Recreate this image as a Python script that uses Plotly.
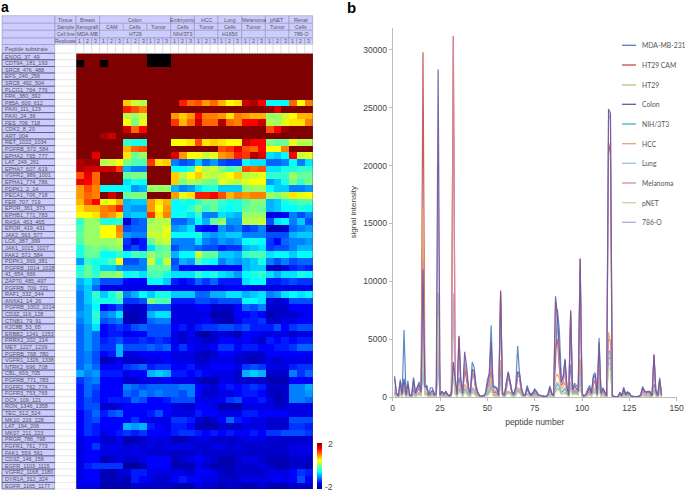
import plotly.graph_objects as go

peptides = [
    "ENOG_37_49", "CDT9A_181_193", "SRC8_476_488", "EFS_240_256", "SRC8_492_504", "PLCG1_764_776",
    "FRK_380_392", "P85A_600_612", "PAXI_111_123", "PAXI_24_36", "FES_706_718", "CDK2_8_20",
    "ART_004", "RET_1022_1034", "PGFRB_572_584", "EPHA2_765_777", "LAT_249_261", "EPHA7_607_619",
    "VGFR2_989_1001", "EPHA1_774_786", "PDPK1_2_14", "PECA1_706_718", "FER_707_719", "EPOR_361_373",
    "EPHB1_771_783", "RASA_453_465", "EPOR_419_431", "JAK2_563_577", "LCK_387_399", "JAK1_1015_1027",
    "FAK2_572_584", "PDPK1_369_381", "PGFRB_1014_1028", "41_654_666", "ZAP70_485_497", "PGFRB_709_721",
    "RAF1_332_344", "ANXA1_14_26", "PGFRB_1002_1014", "CD3Z_116_128", "CTNB1_79_91", "K2C8B_53_65",
    "ERBB2_1241_1253", "PRRX2_202_214", "MET_1227_1239", "PGFRB_768_780", "VGFR1_1326_1338", "NTRK2_696_708",
    "CBL_693_705", "PGFRB_771_783", "FGFR2_762_774", "FGFR3_753_765", "DCX_109_121", "RON_1346_1358",
    "TEC_512_524", "MK10_216_228", "LAT_194_206", "MK07_211_223", "PRGR_786_798", "FGFR1_761_773",
    "FAK1_559_561", "CD3Z_146_158", "EGFR_1103_1115", "VGFR2_1168_1180", "DYR1A_312_324", "EGFR_1165_1177",
]

# 30 replicates, 66 peptides; None is a black (missing) cell
heat_values = [
    [2, 2, 2, 2, 2, 2, 2, 2, 2, None, None, None, 2, 2, 2, 2, 2, 2, 2, 2, 2, 2, 2, 2, 2, 2, 2, 2, 2, 2],
    [None, 2, 2, None, 2, 2, 2, 2, 2, None, None, None, 2, 2, 2, 2, 2, 2, 2, 2, 2, 2, 2, 2, 2, 2, 2, 2, 2, 2],
    [2, 2, 2, 2, 2, 2, 2, 2, 2, 2, 2, 2, 2, 2, 2, 2, 2, 2, 2, 2, 2, 2, 2, 2, 2, 2, 2, 2, 2, 2],
    [2, 2, 2, 2, 2, 2, 2, 2, 2, 2, 2, 2, 2, 2, 2, 2, 2, 2, 2, 2, 2, 2, 2, 2, 2, 2, 2, 2, 2, 2],
    [2, 2, 2, 2, 2, 2, 2, 2, 2, 2, 2, 2, 2, 2, 2, 2, 2, 2, 2, 2, 2, 2, 2, 2, 2, 2, 2, 2, 2, 2],
    [2, 2, 2, 2, 2, 2, 2, 2, 2, 2, 2, 2, 2, 2, 2, 2, 2, 2, 2, 2, 2, 2, 2, 2, 2, 2, 2, 2, 2, 2],
    [2, 2, 2, 2, 2, 2, 2, 2, 2, 2, 2, 2, 2, 2, 2, 2, 2, 2, 2, 2, 2, 2, 2, 2, 2, 2, 2, 2, 2, 2],
    [2, 2, 2, 2, 2, 2, .7, .3, .2, 2, 2, 2, 2, 1.4, 1.1, 1.2, .9, 1.1, .8, .5, .6, 1.7, 1.8, 1.5, -.5, -.5, -.5, 1.1, .5, 1.0],
    [2, 2, 2, 2, 2, 2, 1.4, 1.2, 1.0, 2, 2, 2, 2, 2, 2, 2, 2, 2, 2, 2, 2, 2, 2, 2, 1.9, 1.6, 2, 2, 2, 2],
    [2, 2, 2, 2, 2, 2, .2, .1, .3, 2, 2, 2, .9, .7, .9, 1.5, 1.0, 1.0, .9, .6, 1.0, .9, .8, .8, .1, .1, .3, .5, .8, .8],
    [2, 2, 2, 2, 2, 2, .5, 0, .4, 2, 2, 2, 1.3, .8, 1.1, 1.7, 1.1, 1.1, 1.8, 1.1, 1.0, 1.5, 1.5, 1.7, .2, .1, .4, .6, .6, 1.0],
    [2, 2, 2, 2, 2, 2, 1.7, 1.1, 1.5, 2, 2, 2, 2, 2, 2, 2, 2, 2, 2, 2, 2, 2, 2, 2, 1.2, 1.5, 1.9, 2, 2, 2],
    [2, 2, 2, 1.85, 1.7, 2, 2, 2, 2, 2, 2, 2, 2, 2, 2, 2, 2, 2, 2, 2, 2, 2, 2, 2, 2, 2, 2, 2, 2, 2],
    [2, 2, 2, 2, 2, 2, -.3, -.4, -.4, 2, 2, 2, .5, .5, .6, 1.2, .6, .7, .6, .5, .5, 1.7, 1.5, 1.5, 0, -.1, -.1, .4, .2, .2],
    [2, 2, 2, 2, 2, 2, .8, 1.1, 1.2, 2, 2, 2, 2, 2, 2, 2, 2, 2, 1.2, 1.3, 1.6, 1.2, 1.1, 1.5, .5, .5, 1.0, 2, 2, 2],
    [2, 2, 1.6, 2, 2, 2, .6, -.1, .1, 2, 2, 2, 1.6, .9, .5, .5, .3, .4, .9, 1.0, 1.4, 1.3, 1.8, 1.6, -.6, -.7, -.5, 1.5, .3, .4],
    [1.8, 1.9, 1.9, .2, .3, .5, 0, -.2, -.2, 1.3, .6, .7, -1.0, -1.2, -1.1, -.7, -1.1, -.9, -1.2, -1.3, -1.3, -.5, -.6, -.6, -1.1, -1.1, -1, -.5, -1, -.6],
    [1.8, 1.7, 1.7, 1.7, 1.7, 1.3, -.8, -1, -1, 2, 2, 2, -.5, -.5, -.3, .5, .2, .3, 0, -.2, -.1, 1.2, 1.1, 1.2, -.6, -.6, -.4, -.4, -.3, -.3],
    [1.2, 1.6, 1.1, 2, 2, 2, -.1, 0, 0, 2, 2, 2, .7, .2, .5, .7, .3, .2, .3, .5, .7, .2, .3, .4, -.3, -.3, -.3, .1, -.1, -.1],
    [1.6, 1.5, 1.1, 2, 2, 2, -.6, -.4, -.5, 2, 2, 2, .7, 0, .2, .1, 0, -.1, .4, .3, .2, .4, .5, .5, -.9, -.7, -.4, 0, -.3, 0],
    [.9, 1.2, 1.0, -.5, -.5, -.5, -.5, -.9, -.8, .1, .1, .1, -.8, -1.0, -.9, -.6, -.4, -.3, -.7, -.7, -.7, 0, .1, .1, -.5, -.7, -.7, -1.0, -1, -.9],
    [.9, 1.1, 1.0, 2, 1.7, 2, -.1, 0, 0, 2, 2, 2, .9, .4, .6, 1.4, 1.4, 1.5, 1.2, .8, 1.0, .9, 1.0, 1.0, .1, 0, .2, .6, .4, .5],
    [.8, 1.2, 1.5, .4, .5, .8, -.8, -.7, -.7, .9, .6, .8, -.5, -.4, -.5, -.3, -.1, -.1, -.3, -.4, -.4, -.2, 0, 0, -.8, -.7, -.4, -.3, -.2, -.2],
    [.6, .8, .8, 1.0, 1.1, 1.4, -.8, -.9, -.9, .9, .5, .9, -.5, -.5, -.3, 0, -.3, -.1, -.4, -.5, -.4, -.1, 0, -.1, -.8, -.7, -.5, -.5, -.4, -.5],
    [.5, .5, .6, 1.0, .9, .6, -.8, -.7, -.7, 1.3, .6, 1.0, -.5, -.4, -.6, -.3, -1, -1, -.6, -.7, -.8, .1, .1, .1, -1.6, -1.6, -1.5, -1, -1.2, -1],
    [-.3, .1, .1, -.4, -.4, -.3, -1.7, -1.2, -1.1, .1, .2, .2, -1.1, -1.1, -.9, -.5, -.8, -.1, .1, -.9, -.9, .2, .2, .3, -1.2, -.6, -.5, -1, -.7, -1.2],
    [-.2, .1, .1, .5, .5, 1.0, -1.2, -1.1, -1.1, .2, .2, .4, -.9, -.8, -.6, -1.4, -1.5, -1.5, -.9, -1.1, -1.0, -1.3, -1.2, -1, -1.8, -1.8, -1.7, -1.1, -1, -.9],
    [-.1, .1, .1, .5, .5, .9, -.9, -1.0, -1.0, .3, .3, .4, -.5, -.5, -.5, -.4, -.8, -.9, -.8, -.7, -.7, -1, -1, -1, -1.2, -1.2, -1.2, -.8, -.7, -.7],
    [-.2, .1, .1, .1, .1, .2, -1.3, -1.6, -1.4, -.1, .2, .3, -1.0, -1.0, -1.0, -.6, -1.0, -1.1, -.9, -1, -.9, -.5, -.4, -.5, -1.3, -1.5, -1.1, -1, -1, -.9],
    [-.4, -.1, 0, -.1, 0, .1, -1.4, -1.2, -1.4, -.6, -.2, -.1, -1.2, -1, -1, -1.1, -1.2, -1.2, -1.4, -1.3, -1.3, -.8, -.7, -.6, -1.3, -1.2, -1.2, -1, -.8, -.8],
    [-.4, -.1, -.1, -.5, -.5, -.3, -.5, -.2, -.3, .1, -.1, 0, -.8, -.5, -.5, .3, -.1, -.1, -.7, -.7, -.8, -.3, -.2, -.2, -.6, -.5, -.5, -.7, -.5, -.5],
    [-.9, -.3, -.4, -.4, -.2, .5, -1.2, -1.2, -1.0, .3, -.3, .3, -1.2, -.8, -.9, -.2, -.4, -.5, -1.0, -.8, -.9, -.8, -.7, -.4, -1.0, -1.2, -1, -1.2, -1.1, -1.1],
    [-.4, -.1, -.4, -.7, -.7, -.9, -1.0, -1.0, -1, -.1, -.1, -.1, -1.1, -1.5, -1.5, -1.5, -1.5, -1.5, -1.5, -1.5, -1.5, -.8, -.7, -.7, -1.7, -1.8, -1.6, -1.4, -1.3, -1.4],
    [-.3, -.1, -.3, 0, 0, .1, -.5, -.4, -.6, -.2, -.2, -.4, -.6, -.6, -.6, -.3, -.5, -.4, -.6, -.7, -.9, -.5, -.4, -.3, -.6, -.8, -.6, -.6, -.4, -.5],
    [-.8, -.6, -.9, -1.2, -1.2, -1.2, -1.5, -1.5, -1.5, -.5, -.5, -.7, -1.4, -1.5, -1.4, -1.1, -1.3, -1.1, -1.4, -1.4, -1.4, -.6, -.5, -.5, -1.4, -1.4, -1.3, -1.2, -1.3, -1.3],
    [-.9, -.7, -1.1, -1.6, -1.6, -1.6, -1.6, -1.6, -1.6, -1.6, -1.6, -1.5, -1.6, -1.6, -1.6, -1.6, -1.6, -1.6, -1.6, -1.5, -1.5, -1.5, -1.6, -1.6, -1.6, -1.6, -1.6, -1.6, -1.6, -1.6],
    [-1, -.7, -.3, -.7, -.4, -.1, -1.0, -.8, -.5, -.7, -.4, -.4, -.7, -.7, -.7, -1.1, -1.1, -.8, -.8, -.6, -.6, -.8, -.7, -.6, -1.0, -.9, -.6, -.5, -.6, -.5],
    [-1, -.7, -.4, -.4, -.4, -.3, -1.3, -1.3, -1.2, 0, -.2, -.2, -1.4, -1.4, -1.4, -1.2, -1.2, -1.3, -1.2, -1.2, -1.2, -.5, -.5, -.6, -1.6, -1.7, -1.6, -1.2, -1.2, -1.2],
    [-1, -.8, -.5, -1.5, -1.4, -1.2, -1.7, -1.7, -1.7, -1.2, -1.2, -1.2, -1.6, -1.6, -1.6, -1.5, -1.5, -1.7, -1.7, -1.7, -1.5, -1.1, -1.2, -1, -1.7, -1.7, -1.7, -1.5, -1.5, -1.5],
    [-.9, -.8, -.3, -1.0, -.9, -.6, -1.8, -1.8, -1.7, -.8, -.6, -.6, -1.6, -1.6, -1.6, -1.6, -1.6, -1.8, -1.8, -1.8, -1.5, -1.5, -1.4, -1.5, -1.8, -1.7, -1.7, -1.7, -1.6, -1.5],
    [-1, -.8, -.4, -1.2, -1.1, -1, -1.8, -1.8, -1.7, -1.1, -1, -1, -1.6, -1.6, -1.6, -1.6, -1.5, -1.7, -1.8, -1.8, -1.6, -1.4, -1.4, -1.3, -1.7, -1.7, -1.6, -1.6, -1.5, -1.5],
    [-1.1, -.9, -.6, -1.5, -1.4, -1.3, -1.4, -1.2, -1.1, -1.2, -1.2, -1.2, -1.5, -1.4, -1.6, -1.4, -1.3, -1.3, -1.2, -1.2, -1.3, -1.2, -1.4, -1.4, -1.4, -1.2, -1.5, -1.3, -1.2, -1.2],
    [-1.1, -.9, -1.1, -1.5, -1.4, -1.4, -1.6, -1.5, -1.5, -1.2, -1.2, -1.2, -1.6, -1.7, -1.5, -1.8, -1.9, -1.7, -1.6, -1.7, -1.8, -1.5, -1.5, -1.6, -1.6, -1.6, -1.6, -1.7, -1.6, -1.6],
    [-1.1, -.9, -1.1, -1.4, -1.3, -1.2, -1.4, -1.4, -1.3, -1.4, -1.3, -1.4, -1.6, -1.7, -1.6, -1.6, -1.7, -1.7, -1.5, -1.5, -1.6, -1.5, -1.6, -1.7, -1.4, -1.5, -1.4, -1.5, -1.4, -1.4],
    [-1.1, -.9, -1.1, -1.3, -1.3, -.8, -1.2, -1.2, -1.2, -1.1, -1.2, -1.1, -1.5, -1.3, -1.5, -1.6, -1.6, -1.5, -1.3, -1.3, -1.5, -1.4, -1.4, -1.5, -1.5, -1.4, -1.4, -1.3, -1.1, -1.1],
    [-1.1, -1, -1.2, -1.5, -1.4, -.8, -1.6, -1.6, -1.5, -1.5, -1.5, -1.5, -1.6, -1.6, -1.6, -1.7, -1.8, -1.7, -1.5, -1.5, -1.6, -1.7, -1.7, -1.7, -1.5, -1.5, -1.5, -1.5, -1.5, -1.5],
    [-1.1, -1, -1.2, -1.8, -1.7, -1.6, -1.7, -1.7, -1.7, -1.6, -1.6, -1.5, -1.6, -1.6, -1.6, -1.7, -1.7, -1.6, -1.6, -1.6, -1.7, -1.7, -1.8, -1.7, -1.6, -1.7, -1.6, -1.6, -1.6, -1.6],
    [-1.1, -.9, -1.1, -1.5, -1.5, -1.5, -1.3, -1.2, -1.1, -1.4, -1.3, -1.3, -1.5, -1.5, -1.4, -1.6, -1.6, -1.5, -1.5, -1.5, -1.6, -1.3, -1.2, -1.3, -1.6, -1.6, -1.6, -1.4, -1.3, -1.3],
    [-.8, -1, -.9, -1.4, -1.4, -1.4, -1.6, -1.5, -1.5, -.8, -.7, -.8, -1.4, -1.4, -1.5, -1.4, -1.5, -1.6, -1.6, -1.6, -1.7, -.8, -.7, -.8, -1.7, -1.7, -1.7, -1, -1.3, -1.1],
    [-1.3, -1.1, -1, -1.5, -1.5, -1.5, -1.7, -1.7, -1.6, -1.6, -1.6, -1.5, -1.6, -1.6, -1.6, -1.7, -1.8, -1.8, -1.6, -1.6, -1.7, -1.7, -1.7, -1.7, -1.8, -1.8, -1.8, -1.5, -1.5, -1.5],
    [-1.4, -1.1, -1.2, -1.5, -1.5, -1.5, -1, -1.1, -1.2, -1.1, -1.1, -1.1, -1.1, -1, -1, -1.5, -1.6, -1.7, -1.5, -1.4, -1.5, -1.4, -1.3, -1.4, -1.7, -1.7, -1.7, -1, -1, -.8],
    [-1.4, -1.1, -1.3, -1.5, -1.5, -1.5, -1.1, -1.2, -1.0, -1.1, -1, -1.1, -1.1, -1.2, -1, -1.5, -1.7, -1.7, -1.6, -1.6, -1.5, -1.4, -1.4, -1.5, -1.7, -1.8, -1.7, -1, -1, -.9],
    [-1.4, -1.2, -1.3, -1.5, -1.4, -1.4, -1.4, -1.1, -1.2, -1.5, -1.5, -1.4, -1.2, -1.2, -1.2, -1.6, -1.6, -1.6, -1.5, -1.3, -1.2, -1.5, -1.5, -1.4, -1.6, -1.8, -1.7, -1, -1, -1.1],
    [-1.4, -1.2, -1.2, -1.7, -1.7, -1.6, -1.5, -1.5, -1.5, -1.5, -1.5, -1.5, -1.6, -1.7, -1.7, -1.5, -1.5, -1.6, -1.8, -1.8, -1.8, -1.6, -1.6, -1.6, -1.6, -1.7, -1.7, -1.6, -1.6, -1.6],
    [-1.5, -1.3, -1.1, -1.4, -1.2, -1.1, -1.5, -1.5, -1.5, -1.4, -1.2, -1.5, -1.6, -1.6, -1.6, -1.4, -1.5, -1.5, -1.6, -1.6, -1.6, -1.4, -1.4, -1.5, -1.5, -1.5, -1.5, -1.6, -1.6, -1.6],
    [-1.5, -1.3, -1.2, -1.5, -1.5, -1.5, -1.5, -1.3, -1.5, -1.6, -1.6, -1.6, -1.3, -1.3, -1.4, -1.7, -1.8, -1.7, -1.5, -1.1, -1.4, -1.5, -1.6, -1.6, -1.7, -1.7, -1.7, -1.2, -1.2, -1.2],
    [-1.5, -1.3, -1.4, -1.5, -1.5, -1.5, -.8, -.9, -.8, -1.4, -1.5, -1.6, -1.4, -1.4, -1.5, -1.8, -1.8, -1.8, -1.7, -1.7, -1.7, -1.6, -1.6, -1.6, -1.7, -1.7, -1.7, -1.3, -1.3, -1.4],
    [-1.5, -1.3, -1.4, -1.6, -1.5, -1.4, -1.3, -1.4, -1.3, -1.5, -1.5, -1.5, -1.4, -1.3, -1.3, -1.4, -1.5, -1.4, -1.5, -1.4, -1.5, -1.5, -1.4, -1.5, -1.3, -1.3, -1.2, -1.2, -1.2, -1.3],
    [-1.6, -1.5, -1.5, -1.7, -1.7, -1.6, -1.8, -1.8, -1.7, -1.6, -1.6, -1.6, -1.8, -1.8, -1.7, -1.6, -1.6, -1.7, -1.7, -1.7, -1.7, -1.6, -1.6, -1.6, -1.7, -1.7, -1.7, -1.7, -1.7, -1.7],
    [-1.6, -1.5, -1.3, -1.6, -1.6, -1.6, -1.7, -1.6, -1.7, -1.6, -1.7, -1.6, -1.6, -1.6, -1.6, -1.7, -1.7, -1.6, -1.6, -1.7, -1.6, -1.7, -1.7, -1.7, -1.7, -1.7, -1.7, -1.6, -1.6, -1.6],
    [-1.6, -1.5, -1.5, -1.6, -1.6, -1.6, -1.6, -1.6, -1.6, -1.7, -1.7, -1.7, -1.7, -1.7, -1.7, -1.6, -1.7, -1.7, -1.7, -1.7, -1.7, -1.7, -1.7, -1.7, -1.7, -1.7, -1.7, -1.6, -1.6, -1.6],
    [-1.6, -1.5, -1.5, -1.8, -1.7, -1.6, -1.7, -1.7, -1.6, -1.5, -1.5, -1.5, -1.8, -1.7, -1.6, -1.5, -1.6, -1.7, -1.8, -1.8, -1.7, -1.6, -1.6, -1.7, -1.8, -1.8, -1.8, -1.7, -1.7, -1.7],
    [-1.6, -1.4, -1.3, -1.3, -1.3, -1.3, -1.9, -1.9, -1.8, -1.5, -1.5, -1.5, -1.8, -1.8, -1.8, -1.6, -1.7, -1.8, -1.8, -1.8, -1.7, -1.7, -1.7, -1.6, -1.7, -1.8, -1.8, -1.7, -1.7, -1.8],
    [-1.6, -1.5, -1.5, -1.8, -1.8, -1.7, -1.6, -1.4, -1.4, -1.6, -1.6, -1.6, -1.6, -1.6, -1.7, -1.5, -1.5, -1.6, -1.7, -1.8, -1.7, -1.7, -1.7, -1.7, -1.6, -1.6, -1.6, -1.5, -1.3, -1.4],
    [-1.6, -1.5, -1.5, -1.8, -1.8, -1.7, -1.8, -1.4, -1.5, -1.6, -1.7, -1.7, -1.5, -1.4, -1.5, -1.5, -1.6, -1.6, -1.7, -1.7, -1.7, -1.6, -1.6, -1.6, -1.6, -1.5, -1.6, -1.5, -1.2, -1.5],
    [-1.6, -1.6, -1.6, -1.8, -1.8, -1.8, -1.8, -1.7, -1.7, -1.7, -1.7, -1.7, -1.8, -1.8, -1.8, -1.6, -1.7, -1.7, -1.8, -1.7, -1.7, -1.8, -1.8, -1.7, -1.8, -1.8, -1.8, -1.7, -1.7, -1.7],
]

heat_colors = [[0, "#00007f"], [0.125, "#0000ff"], [0.25, "#007fff"], [0.375, "#00ffff"], [0.5, "#7fff7f"],
               [0.625, "#ffff00"], [0.75, "#ff7f00"], [0.875, "#ff0000"], [1, "#7f0000"]]

# header rows of the table: (first column, last column + 1, text)
tissue_row = [(0, 3, "Breast"), (3, 12, "Colon"), (12, 15, "Embryonic"), (15, 18, "HCC"), (18, 21, "Lung"),
              (21, 24, "Melanoma"), (24, 27, "pNET"), (27, 30, "Renal")]
sample_row = [(0, 3, "Xenograft"), (3, 6, "CAM"), (6, 9, "Cells"), (9, 12, "Tumor"), (12, 15, "Cells"),
              (15, 18, "Tumor"), (18, 21, "Cells"), (21, 24, "Tumor"), (24, 27, "Tumor"), (27, 30, "Cells")]
cell_line_row = [(0, 3, "MDA-MB"), (3, 12, "HT29"), (12, 15, "NIH/3T3"), (15, 18, ""), (18, 21, "H1650"),
                 (21, 24, ""), (24, 27, ""), (27, 30, "786-O")]
replicate_row = [(i, i + 1, str(i % 3 + 1)) for i in range(30)]
row_names = ["Tissue", "Sample", "Cell line", "Replicate"]

peptide_number = list(range(1, 143))

mda_mb_231 = [
    1800, 350, 120, 1500, 300, 5800, 200, 1400, 200, 150,
    1700, 400, 900, 1300, 500, 3000, 800, 1000, 200, 800,
    800, 300, 150, 9000, 150, 500, 250, 500, 250, 100,
    300, 3000, 900, 300, 1700, 700, 400, 2800, 2000, 800,
    400, 3000, 2600, 1000, 400, 120, 100, 150, 300, 1500,
    2000, 6200, 1000, 900, 800, 200, 2500, 400, 150, 1200,
    2200, 1400, 500, 300, 900, 4400, 2000, 800, 200, 200,
    1000, 500, 200, 400, 700, 500, 200, 150, 100, 40,
    50, 250, 950, 350, 150, 3000, 7600, 5800, 1800, 1600,
    3300, 900, 200, 2800, 700, 1200, 1000, 800, 3200, 300,
    80, 250, 700, 1000, 400, 1900, 2100, 300, 5100, 400,
    800, 500, 150, 4000, 3800, 150, 40, 30, 60, 400,
    150, 850, 300, 450, 350, 100, 30, 30, 40, 80,
    200, 900, 550, 450, 500, 450, 120, 1100, 600, 150,
    1650, 200,
]
ht29_cam = [
    400, 100, 50, 800, 150, 1300, 100, 500, 80, 60,
    700, 150, 500, 800, 300, 29800, 1300, 700, 80, 200,
    250, 100, 60, 6000, 80, 200, 100, 200, 100, 40,
    500, 31200, 1000, 200, 5300, 1000, 200, 2500, 1500, 400,
    200, 2000, 1700, 500, 150, 60, 40, 80, 200, 800,
    1100, 2500, 400, 400, 300, 100, 9200, 200, 80, 600,
    1800, 1100, 300, 150, 400, 1900, 1700, 300, 100, 100,
    700, 300, 100, 200, 300, 200, 80, 60, 40, 20,
    20, 120, 600, 200, 80, 4200, 5000, 2500, 1000, 1200,
    2600, 600, 100, 7500, 300, 500, 400, 300, 12000, 200,
    30, 100, 300, 500, 200, 1100, 1400, 150, 3200, 200,
    500, 300, 60, 22000, 21000, 60, 20, 15, 30, 200,
    60, 400, 120, 250, 180, 50, 15, 15, 20, 40,
    100, 500, 300, 250, 300, 250, 60, 3600, 300, 60,
    1000, 100,
]
ht29 = [
    150, 50, 20, 200, 60, 500, 50, 150, 30, 20,
    200, 60, 120, 250, 100, 6500, 200, 150, 30, 60,
    100, 30, 20, 9000, 40, 80, 50, 80, 40, 15,
    100, 2800, 300, 80, 600, 300, 60, 500, 300, 100,
    50, 400, 300, 100, 40, 20, 15, 30, 60, 200,
    300, 800, 150, 100, 80, 30, 1200, 60, 30, 200,
    400, 300, 80, 40, 150, 500, 400, 120, 40, 30,
    200, 100, 40, 60, 100, 60, 25, 20, 15, 10,
    10, 40, 150, 60, 30, 500, 800, 700, 300, 300,
    400, 200, 50, 800, 200, 300, 250, 200, 1200, 60,
    15, 50, 120, 200, 80, 400, 400, 60, 800, 80,
    150, 80, 30, 3000, 2800, 30, 10, 10, 15, 60,
    25, 120, 50, 80, 60, 20, 8, 8, 10, 15,
    40, 150, 80, 60, 80, 70, 20, 500, 100, 20,
    300, 40,
]
colon = [
    1600, 300, 80, 1300, 250, 1600, 150, 1100, 150, 100,
    1500, 300, 800, 1100, 400, 11000, 900, 900, 150, 400,
    600, 200, 250, 28300, 150, 500, 250, 450, 200, 80,
    200, 3000, 1500, 200, 5200, 1500, 300, 3900, 2700, 900,
    300, 2400, 2200, 900, 300, 100, 80, 100, 300, 1200,
    1900, 4700, 900, 800, 700, 150, 9100, 300, 150, 1200,
    2100, 1300, 400, 200, 800, 2200, 2000, 700, 150, 150,
    800, 400, 150, 300, 600, 400, 150, 150, 80, 30,
    30, 200, 800, 300, 100, 8700, 7000, 4000, 1300, 1700,
    3200, 900, 150, 7400, 600, 1000, 800, 500, 11900, 300,
    50, 200, 500, 800, 300, 1700, 1900, 200, 4700, 300,
    700, 400, 100, 24900, 24500, 100, 30, 20, 50, 350,
    100, 700, 200, 400, 300, 80, 20, 20, 30, 60,
    150, 800, 500, 400, 450, 400, 100, 3700, 500, 100,
    1500, 150,
]
nih_3t3 = [
    200, 60, 30, 250, 80, 700, 60, 250, 40, 30,
    300, 90, 180, 300, 130, 2500, 300, 200, 40, 100,
    150, 40, 30, 3500, 40, 100, 60, 100, 50, 20,
    150, 2000, 300, 70, 700, 350, 80, 700, 500, 150,
    70, 600, 500, 150, 60, 30, 20, 40, 80, 300,
    500, 1000, 200, 150, 100, 40, 1400, 70, 40, 250,
    450, 350, 100, 60, 200, 600, 500, 150, 50, 40,
    250, 120, 50, 80, 120, 80, 30, 25, 18, 10,
    12, 50, 200, 80, 40, 800, 1100, 900, 400, 500,
    700, 300, 70, 900, 300, 400, 300, 250, 1500, 80,
    15, 60, 150, 250, 100, 500, 600, 80, 1000, 100,
    200, 100, 40, 3500, 3200, 40, 12, 10, 15, 80,
    30, 150, 60, 100, 80, 25, 8, 8, 10, 20,
    50, 180, 100, 80, 100, 90, 25, 600, 120, 25,
    400, 50,
]
hcc = [
    300, 80, 40, 350, 100, 900, 80, 300, 50, 40,
    400, 120, 250, 450, 200, 16300, 500, 300, 50, 150,
    200, 60, 40, 5000, 50, 150, 80, 150, 70, 25,
    300, 8200, 500, 100, 1200, 600, 120, 1100, 800, 250,
    100, 800, 700, 250, 80, 40, 25, 50, 100, 500,
    800, 1600, 300, 250, 150, 60, 3200, 100, 50, 350,
    500, 400, 150, 80, 300, 800, 700, 200, 60, 50,
    300, 150, 60, 100, 150, 100, 40, 30, 25, 12,
    15, 60, 250, 100, 50, 1700, 2000, 1600, 700, 900,
    1300, 500, 100, 1300, 500, 600, 500, 400, 3300, 100,
    20, 80, 200, 350, 150, 700, 800, 100, 1500, 120,
    300, 150, 50, 5600, 4800, 50, 15, 12, 20, 100,
    40, 200, 80, 130, 100, 30, 10, 10, 12, 25,
    60, 250, 130, 100, 130, 110, 30, 900, 150, 30,
    500, 60,
]
lung = [
    250, 70, 30, 300, 90, 800, 70, 280, 45, 35,
    350, 100, 200, 350, 150, 3500, 350, 220, 45, 120,
    170, 50, 35, 4000, 45, 120, 70, 120, 60, 20,
    180, 2400, 350, 80, 800, 400, 90, 800, 600, 180,
    80, 700, 550, 170, 70, 35, 20, 45, 90, 350,
    600, 1200, 220, 170, 120, 45, 1700, 80, 45, 280,
    480, 380, 120, 70, 230, 650, 550, 170, 55, 45,
    280, 130, 55, 90, 130, 90, 35, 28, 20, 10,
    12, 55, 220, 90, 45, 1000, 1300, 1000, 450, 600,
    800, 350, 80, 1000, 350, 450, 350, 280, 1800, 90,
    18, 70, 170, 280, 110, 550, 650, 90, 1200, 110,
    230, 110, 45, 3900, 3500, 45, 12, 10, 18, 90,
    35, 170, 70, 110, 90, 28, 9, 9, 12, 22,
    55, 200, 110, 90, 110, 100, 28, 700, 130, 28,
    450, 55,
]
melanoma = [
    600, 150, 60, 800, 150, 1200, 100, 600, 100, 60,
    900, 200, 600, 900, 350, 12000, 800, 700, 100, 250,
    350, 120, 70, 5000, 80, 250, 120, 250, 120, 40,
    300, 31000, 900, 150, 4600, 900, 200, 2900, 1900, 500,
    200, 2200, 1900, 600, 180, 70, 50, 80, 200, 800,
    1200, 3500, 500, 500, 350, 100, 8800, 200, 80, 700,
    1700, 1200, 300, 150, 500, 2000, 1800, 400, 100, 100,
    700, 300, 100, 200, 400, 250, 80, 70, 40, 20,
    20, 120, 550, 200, 80, 8300, 6500, 3000, 1100, 1300,
    2700, 600, 100, 6900, 350, 600, 450, 350, 11000, 200,
    30, 120, 350, 550, 200, 1300, 1500, 150, 3700, 220,
    500, 300, 60, 5000, 4800, 60, 20, 15, 30, 220,
    70, 500, 150, 280, 200, 50, 15, 15, 20, 45,
    110, 550, 320, 280, 320, 280, 70, 3500, 350, 70,
    1100, 110,
]
pnet = [
    120, 40, 20, 170, 50, 400, 40, 130, 25, 18,
    170, 50, 100, 200, 80, 4500, 170, 130, 25, 50,
    80, 25, 18, 7000, 35, 70, 40, 70, 35, 12,
    80, 2000, 250, 60, 500, 250, 50, 400, 250, 80,
    40, 320, 250, 80, 35, 18, 12, 25, 50, 170,
    250, 650, 120, 80, 65, 25, 1000, 50, 25, 170,
    320, 250, 65, 35, 120, 400, 320, 100, 35, 25,
    170, 80, 35, 50, 80, 50, 20, 18, 12, 8,
    8, 35, 120, 50, 25, 400, 650, 550, 250, 250,
    320, 170, 40, 650, 170, 250, 200, 170, 1000, 50,
    12, 40, 100, 170, 65, 320, 320, 50, 650, 65,
    120, 65, 25, 2500, 2300, 25, 8, 8, 12, 50,
    20, 100, 40, 65, 50, 18, 7, 7, 8, 12,
    32, 120, 65, 50, 65, 55, 18, 400, 80, 18,
    250, 32,
]
renal_786_o = [
    900, 200, 70, 900, 200, 1300, 120, 800, 120, 80,
    1100, 250, 600, 1000, 400, 8000, 800, 800, 120, 350,
    500, 150, 80, 20000, 120, 400, 200, 350, 150, 60,
    200, 9000, 1000, 180, 3800, 1000, 250, 3200, 2300, 700,
    250, 2000, 1800, 700, 250, 80, 60, 90, 250, 1000,
    1500, 4000, 700, 600, 500, 120, 7000, 250, 100, 900,
    1900, 1200, 350, 180, 650, 2000, 1800, 500, 120, 120,
    700, 350, 120, 250, 500, 350, 120, 100, 60, 25,
    25, 170, 700, 250, 90, 7500, 6600, 3800, 1200, 1400,
    2900, 800, 120, 6500, 500, 800, 650, 450, 10500, 250,
    40, 170, 420, 680, 260, 1500, 1700, 170, 4200, 260,
    600, 350, 80, 24000, 24500, 80, 25, 15, 40, 300,
    80, 600, 170, 350, 260, 70, 15, 15, 25, 50,
    130, 700, 420, 350, 400, 350, 80, 3300, 430, 80,
    1300, 130,
]

series_names = ["MDA-MB-231", "HT29 CAM", "HT29", "Colon", "NIH/3T3", "HCC", "Lung", "Melanoma", "pNET", "786-O"]
series_values = [mda_mb_231, ht29_cam, ht29, colon, nih_3t3, hcc, lung, melanoma, pnet, renal_786_o]
series_colors = ["#4f81bd", "#c0504d", "#b3c47c", "#70559a", "#4bacc6", "#eda26d", "#a3bcd9", "#d98a9c", "#c3d69b", "#b9a6d8"]
# colon sits on top of the others in the reference
draw_order = [0, 1, 2, 4, 5, 6, 7, 8, 9, 3]

WIDTH, HEIGHT = 685, 491
GREY = "#555555"
LAVENDER = "#ccccff"
FONT = "Liberation Sans"

# pixel positions of the table
HEAT_LEFT, HEAT_RIGHT, HEAT_TOP, HEAT_BOTTOM = 76, 312.7, 53.3, 489
LABEL_LEFT, LABEL_RIGHT = 2, 55
HEADER_Y = [15.7, 23.3, 30.3, 38, 44.5, 53.3]
CELL_W = (HEAT_RIGHT - HEAT_LEFT) / 30
CELL_H = (HEAT_BOTTOM - HEAT_TOP) / 66


def px(x):
    return x / WIDTH


def py(y):
    return 1 - y / HEIGHT


def rect(x0, y0, x1, y1, fill, line_color=GREY, line_width=0.5, layer="above"):
    return dict(type="rect", xref="paper", yref="paper", x0=px(x0), x1=px(x1), y0=py(y0), y1=py(y1),
                fillcolor=fill, line=dict(color=line_color, width=line_width), layer=layer)


def label(x, y, text, size=5.5, anchor="center", color=GREY, bold=False, font=FONT):
    return dict(xref="paper", yref="paper", x=px(x), y=py(y), text="<b>%s</b>" % text if bold else text,
                showarrow=False, xanchor=anchor, yanchor="middle", align=anchor,
                font=dict(family=font, size=size, color=color))


shapes = []
annotations = []

# black cells show through the gaps in the heatmap
shapes.append(rect(HEAT_LEFT, HEAT_TOP, HEAT_RIGHT, HEAT_BOTTOM, "black", "black", 0, "below"))

for i, cells in enumerate([tissue_row, sample_row, cell_line_row, replicate_row]):
    top, bottom = HEADER_Y[i], HEADER_Y[i + 1]
    shapes.append(rect(LABEL_LEFT, top, LABEL_RIGHT, bottom, LAVENDER, "#8888aa", 0.5))
    shapes.append(rect(LABEL_RIGHT, top, HEAT_LEFT, bottom, LAVENDER, "#8888aa", 0.5))
    annotations.append(label((LABEL_RIGHT + HEAT_LEFT) / 2, (top + bottom) / 2, row_names[i], 5))
    for first, last, text in cells:
        x0 = HEAT_LEFT + first * CELL_W
        x1 = HEAT_LEFT + last * CELL_W
        shapes.append(rect(x0, top, x1, bottom, LAVENDER, "#8888aa", 0.5))
        if text:
            annotations.append(label((x0 + x1) / 2, (top + bottom) / 2, text, 5.2))

# peptide substrate row
top, bottom = HEADER_Y[4], HEADER_Y[5]
shapes.append(rect(LABEL_LEFT, top, LABEL_RIGHT, bottom, LAVENDER, "#8888aa", 0.5))
annotations.append(label(LABEL_LEFT + 1, (top + bottom) / 2, "Peptide substrate", anchor="left"))
for i in range(31):
    x0 = LABEL_RIGHT if i == 0 else HEAT_LEFT + (i - 1) * CELL_W
    x1 = HEAT_LEFT + i * CELL_W
    shapes.append(rect(x0, top, x1, bottom, "white", "#cccccc", 0.5))

for i, name in enumerate(peptides):
    top = HEAT_TOP + i * CELL_H
    shapes.append(rect(LABEL_LEFT, top, LABEL_RIGHT, top + CELL_H, LAVENDER, "#444466", 0.7))
    shapes.append(rect(LABEL_RIGHT, top, HEAT_LEFT, top + CELL_H, "white", "#dddddd", 0.5))
    annotations.append(label(LABEL_LEFT + 1, top + CELL_H / 2, name, anchor="left"))

annotations.append(label(5, 6.5, "a", 14, color="black", bold=True))
annotations.append(label(351.5, 7, "b", 15, color="black", bold=True))

# colorbar labels: plotly drops the -2 tick at the foot of so short a bar
annotations.append(label(330, 443.5, "2", 8.5, color="#444444"))
annotations.append(label(329, 487, "-2", 8.5, color="#444444"))

# legend is hand placed: its short line samples are narrower than plotly's own
LEGEND_Y = [45.3, 65, 85, 104.3, 124, 143.7, 163.3, 183, 202.7, 222.3]
for name, color, y in zip(series_names, series_colors, LEGEND_Y):
    shapes.append(dict(type="line", xref="paper", yref="paper", x0=px(622), x1=px(636), y0=py(y), y1=py(y),
                       line=dict(color=color, width=1.3)))
    annotations.append(label(640, y, name, 6.8, anchor="left", color="#555555", font="Lato"))

fig = go.Figure()

fig.add_trace(go.Heatmap(z=heat_values, y=peptides, x=list(range(30)), zmin=-2, zmax=2, colorscale=heat_colors,
                         hoverongaps=False, xaxis="x", yaxis="y",
                         colorbar=dict(x=px(317), xanchor="left", xpad=0, y=py(489), yanchor="bottom", ypad=0,
                                       len=46 / HEIGHT, thickness=5, outlinewidth=0, showticklabels=False,
                                       ticks="")))

for i in draw_order:
    fig.add_trace(go.Scatter(x=peptide_number, y=series_values[i], name=series_names[i], mode="lines",
                             showlegend=False, opacity=0.9, line=dict(color=series_colors[i], width=1.2),
                             xaxis="x2", yaxis="y2"))

fig.update_layout(
    width=WIDTH, height=HEIGHT, margin=dict(l=0, r=0, t=0, b=0), autosize=False,
    paper_bgcolor="white", plot_bgcolor="rgba(0,0,0,0)", template="none",
    font=dict(family=FONT, color="#444444"),
    shapes=shapes, annotations=annotations,
    xaxis=dict(domain=[px(HEAT_LEFT), px(HEAT_RIGHT)], range=[-0.5, 29.5], visible=False),
    yaxis=dict(domain=[py(HEAT_BOTTOM), py(HEAT_TOP)], autorange="reversed", visible=False),
    xaxis2=dict(domain=[px(392.7), px(676.7)], range=[0, 150], dtick=25, anchor="y2", showgrid=False, zeroline=False,
                showline=True, linecolor="#bbbbbb", linewidth=1, ticks="outside", ticklen=3, tickcolor="#bbbbbb",
                tickfont=dict(size=8.5, color="#444444"), automargin=False,
                title=dict(text="peptide number", standoff=6, font=dict(size=8.5, color="#444444"))),
    yaxis2=dict(domain=[py(397), py(27.7)], range=[0, 31920], tickvals=[0, 5000, 10000, 15000, 20000, 25000, 30000],
                anchor="x2", showgrid=False, zeroline=False, showline=True, linecolor="#bbbbbb", linewidth=1,
                ticks="outside", ticklen=3, tickcolor="#bbbbbb", tickformat="d",
                tickfont=dict(size=8.5, color="#444444"), automargin=False,
                title=dict(text="signal intensity", standoff=5, font=dict(size=8, color="#444444"))),
)

fig.write_html("out.html", config={"displayModeBar": False},
               post_script="document.body.style.margin='0'; document.body.style.overflow='hidden';")
